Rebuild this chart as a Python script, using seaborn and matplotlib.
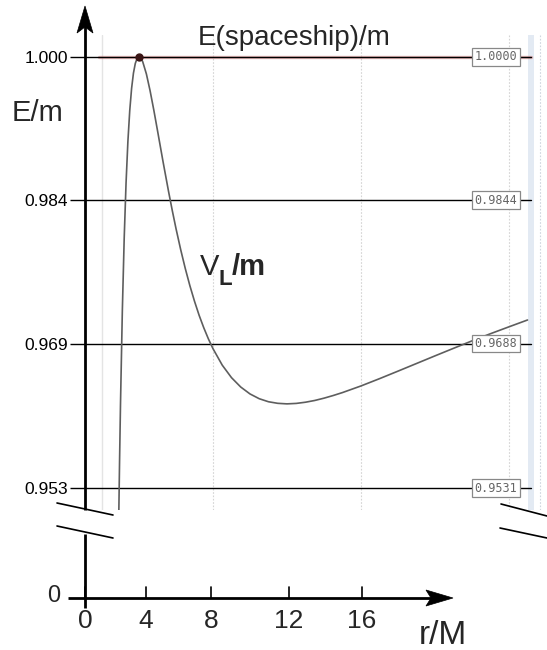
import numpy as np
import pandas as pd
import seaborn as sns
import matplotlib
matplotlib.use("Agg")
import matplotlib.pyplot as plt
from matplotlib.patches import Polygon, Rectangle
from matplotlib.transforms import blended_transform_factory

# ---------------- data ----------------
r_vals = [2.91, 2.95, 3.0, 3.1, 3.2, 3.3, 3.4, 3.5, 3.6, 3.7, 3.8, 3.9, 4.0,
          4.1, 4.2, 4.4, 4.6, 4.8, 5.0, 5.3, 5.6, 5.8, 6.0, 6.25, 6.5, 6.75,
          7.0, 7.25, 7.5, 7.75, 8.0, 8.5, 9.0, 9.5, 10.0, 10.5, 11.0, 11.5,
          12.0, 12.5, 13.0, 13.5, 14.0, 14.5, 15.0, 16.0, 17.0, 18.0, 19.0,
          20.0, 21.0, 22.0, 23.0, 24.0, 25.0]
v_vals = [0.95056, 0.95609, 0.96225, 0.97243, 0.98027, 0.98627, 0.99080,
          0.99415, 0.99656, 0.99822, 0.99927, 0.99983, 1.00000, 0.99985,
          0.99946, 0.99812, 0.99629, 0.99420, 0.99197, 0.98858, 0.98532,
          0.98326, 0.98131, 0.97905, 0.97698, 0.97510, 0.97341, 0.97188,
          0.97053, 0.96932, 0.96825, 0.96646, 0.96510, 0.96408, 0.96333,
          0.96281, 0.96248, 0.96231, 0.96225, 0.96230, 0.96243, 0.96262,
          0.96287, 0.96316, 0.96348, 0.96420, 0.96499, 0.96581, 0.96664,
          0.96747, 0.96829, 0.96910, 0.96988, 0.97063, 0.97137]
levels = [1.0000, 0.9844, 0.9688, 0.9531]
grid_dotted_r = [8, 16, 24]
grid_solid_r = [2]
x_tick_labels = ["0", "4", "8", "12", "16"]
title_text = "E(spaceship)/m"
ylabel_text = "E/m"
xlabel_text = "r/M"

df = pd.DataFrame({"r": r_vals, "V": v_vals})

# ---------------- figure ----------------
sns.set_theme(style="white")
plt.rcParams["font.family"] = ["Liberation Sans", "DejaVu Sans"]

W, H = 547, 650
fig = plt.figure(figsize=(W / 100, H / 100), dpi=100)

# inner plot (pixel box: x 85..545, y 35..510)
ax = fig.add_axes([85 / W, 1 - 510 / H, 460 / W, 475 / H])
ax.set_xlim(1.081, 25.946)
ax.set_ylim(0.95071, 1.00236)
for s in ax.spines.values():
    s.set_visible(False)
ax.set_xticks([])
ax.set_yticks(levels)
ax.set_yticklabels([f"{v:.3f}" for v in levels])
ax.tick_params(axis="y", left=True, length=11, width=1.0, pad=1,
               labelsize=12.5, color="black", labelcolor="black")

for g in grid_solid_r:
    ax.axvline(g, color="#e4e4e4", lw=1.0, zorder=0)
for g in grid_dotted_r:
    ax.axvline(g, color="#d4d4d4", lw=0.8, ls=(0, (1.5, 1.5)), zorder=0)
ax.add_patch(Rectangle((0.963, 0), 0.013, 1, transform=ax.transAxes,
                       fc="#e3eaf3", ec="none", zorder=0))
ax.axvline(25.68, color="#cfd6de", lw=0.8, ls=(0, (1.5, 1.5)), zorder=0)

xmax_frac = (531 - 85) / 460
ax.axhline(levels[0], xmin=0.03, xmax=xmax_frac, color="#d08080", lw=2.4,
           alpha=0.55, zorder=1)
for v in levels:
    ax.axhline(v, xmin=0, xmax=xmax_frac, color="black", lw=1.0, zorder=2)

trans = blended_transform_factory(ax.transAxes, ax.transData)
for v in levels:
    ax.text(0.8935, v, f"{v:.4f}", transform=trans, ha="center", va="center",
            fontsize=8.5, family="DejaVu Sans Mono", color="#666666", zorder=4,
            bbox=dict(boxstyle="square,pad=0.2", fc="white", ec="#888888",
                      lw=0.9))

sns.lineplot(data=df, x="r", y="V", ax=ax, color="#5e5e5e", lw=1.2,
             sort=False, estimator=None, zorder=3)
peak = df.loc[df["V"].idxmax()]
ax.plot(peak["r"], peak["V"], "o", ms=5, color="#3a1515", zorder=5)
ax.set_xlabel("")
ax.set_ylabel("")

# ---------------- overlay (schematic axes, pixel coordinates) ----------------
ov = fig.add_axes([0, 0, 1, 1])
ov.set_xlim(0, W)
ov.set_ylim(H, 0)
ov.axis("off")
ov.patch.set_alpha(0)

lw_ax = 2.0
# y axis (upper part with arrow)
ov.plot([85, 85], [510, 26], color="black", lw=lw_ax, solid_capstyle="butt")
ov.add_patch(Polygon([(85, 6), (77, 33), (85, 27), (93, 33)], closed=True,
                     fc="black", ec="black", lw=0.5))
# y axis lower part
ov.plot([85, 85], [534, 608], color="black", lw=lw_ax, solid_capstyle="butt")
# break marks
ov.plot([57, 113], [503, 515], color="black", lw=1.2)
ov.plot([57, 113], [526, 538], color="black", lw=1.2)
ov.plot([501, 547], [504, 516], color="black", lw=1.2)
ov.plot([500, 547], [528, 538], color="black", lw=1.2)
# x axis with arrow
ov.plot([68, 432], [598, 598], color="black", lw=lw_ax, solid_capstyle="butt")
ov.add_patch(Polygon([(453, 598), (426, 590), (431, 598), (426, 606)],
                     closed=True, fc="black", ec="black", lw=0.5))
xtick_px = [85, 146, 211, 289, 362]
for p, lab in zip(xtick_px, x_tick_labels):
    ov.plot([p, p], [587, 598], color="black", lw=1.2)
    ov.text(p, 628, lab, ha="center", va="baseline", fontsize=19)
ov.text(54, 602, "0", ha="center", va="baseline", fontsize=17)

ov.text(38, 121, ylabel_text, ha="center", va="baseline", fontsize=21)
ov.text(294, 45, title_text, ha="center", va="baseline", fontsize=20)
ov.text(443, 644, xlabel_text, ha="center", va="baseline", fontsize=24)

# V_L/m label
ov.text(200, 275, "V", ha="left", va="baseline", fontsize=21)
ov.text(219, 285, "L", ha="left", va="baseline", fontsize=16, weight="bold")
ov.text(232, 275, "/m", ha="left", va="baseline", fontsize=21, weight="bold")

fig.savefig("out.png", dpi=100)
